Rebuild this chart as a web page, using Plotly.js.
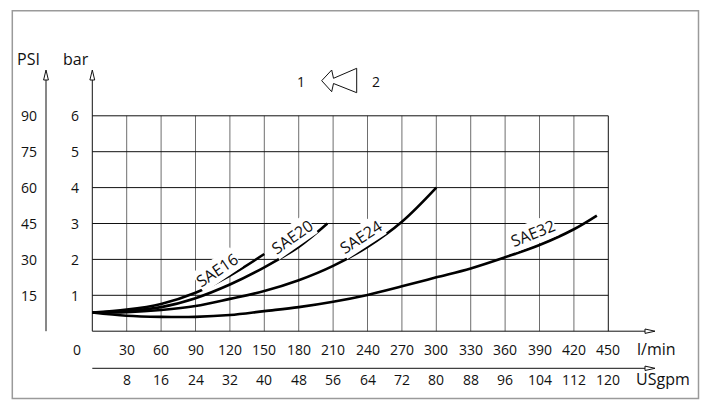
<!DOCTYPE html>
<html>
<head>
<meta charset="utf-8">
<script src="https://cdn.plot.ly/plotly-3.0.1.min.js"></script>
<style>html,body{margin:0;padding:0;background:#fff;}#chart{width:710px;height:411px;}</style>
</head>
<body>
<div id="chart"></div>
<script>
// ---- data ----
const flowTicks = [30, 60, 90, 120, 150, 180, 210, 240, 270, 300, 330, 360, 390, 420, 450]; // l/min
const usgpmLabels = [8, 16, 24, 32, 40, 48, 56, 64, 72, 80, 88, 96, 104, 112, 120];
const barTicks = [1, 2, 3, 4, 5, 6];
const psiLabels = [15, 30, 45, 60, 75, 90];

const sae16Flow = [0, 30, 60, 90, 120, 150];
const sae16Bar  = [0.52, 0.60, 0.76, 1.07, 1.55, 2.15];
const sae20Flow = [0, 30, 60, 90, 120, 150, 180, 205];
const sae20Bar  = [0.52, 0.56, 0.67, 0.92, 1.30, 1.78, 2.35, 3.0];
const sae24Flow = [0, 30, 60, 90, 120, 150, 180, 210, 240, 270, 300];
const sae24Bar  = [0.52, 0.53, 0.59, 0.70, 0.90, 1.12, 1.42, 1.82, 2.35, 3.05, 4.0];
const sae32Flow = [0, 30, 60, 90, 120, 150, 180, 210, 240, 270, 300, 330, 360, 390, 420, 440];
const sae32Bar  = [0.52, 0.43, 0.40, 0.40, 0.45, 0.56, 0.67, 0.82, 1.01, 1.25, 1.50, 1.75, 2.06, 2.40, 2.84, 3.22];
const curveNames = ['SAE16', 'SAE20', 'SAE24', 'SAE32'];

// ---- page geometry (pixel -> data helpers for decorations) ----
const W = 710, H = 411;
const X0 = 92.3, SX = 1.1467;   // px of 0 l/min, px per l/min
const Y0 = 331.2, SY = 35.9;    // px of 0 bar, px per bar
const qx = px => (px - X0) / SX;
const by = py => (Y0 - py) / SY;

const FONT = '"Open Sans", "Noto Sans", sans-serif';
const INK = '#111';

const traces = [];
// grid verticals
const gvx = [], gvy = [];
flowTicks.slice(0, -1).forEach(q => { gvx.push(q, q, null); gvy.push(0, 6, null); });
traces.push({x: gvx, y: gvy, mode: 'lines', line: {color: '#6e6e6e', width: 1}, hoverinfo: 'skip'});
// grid horizontals + right edge
const ghx = [], ghy = [];
barTicks.forEach(b => { ghx.push(0, 450, null); ghy.push(b, b, null); });
ghx.push(450, 450, null); ghy.push(0, 6, null);
traces.push({x: ghx, y: ghy, mode: 'lines', line: {color: '#111', width: 1}, hoverinfo: 'skip'});

// axes lines
const xTip = qx(655), xBase = qx(645);
const yTip = by(70), yBase = by(80);
const usY = by(368.3);
const psiX = qx(46);
traces.push({x: [0, xBase, null, 0, xBase, null, 0, 0, null, psiX, psiX],
             y: [0, 0, null, usY, usY, null, 0, yBase, null, 0, yBase],
             mode: 'lines', line: {color: '#111', width: 1}, hoverinfo: 'skip'});

// curves
[[sae16Flow, sae16Bar], [sae20Flow, sae20Bar], [sae24Flow, sae24Bar], [sae32Flow, sae32Bar]].forEach((c, i) => {
  traces.push({x: c[0], y: c[1], name: curveNames[i], mode: 'lines',
               line: {color: '#000', width: 2.6, shape: 'spline', smoothing: 1}, hoverinfo: 'skip'});
});

// arrowheads (hollow triangles)
const hw = 2.4 / SX, hh = 2.2 / SY;
function tri(pts) {
  return {type: 'path', xref: 'x', yref: 'y', fillcolor: '#fff', line: {color: '#111', width: 1},
          path: 'M' + pts.map(p => p[0] + ',' + p[1]).join(' L') + ' Z'};
}
const shapes = [
  tri([[xBase, hh], [xTip, 0], [xBase, -hh]]),
  tri([[xBase, usY + hh], [xTip, usY], [xBase, usY - hh]]),
  tri([[-hw, yBase], [0, yTip], [hw, yBase]]),
  tri([[psiX - hw, yBase], [psiX, yTip], [psiX + hw, yBase]]),
  // flow direction arrow 2 -> 1
  {type: 'path', xref: 'x', yref: 'y', fillcolor: 'rgba(0,0,0,0)', line: {color: '#111', width: 1},
   path: 'M' + [[321.7, 80.7], [331.7, 70], [333.5, 78.3], [356.7, 68.3], [356.7, 92.7], [333.5, 83.5], [331.7, 91.7]]
     .map(p => qx(p[0]) + ',' + by(p[1])).join(' L') + ' Z'},
  // outer frame
  {type: 'rect', xref: 'paper', yref: 'paper', x0: 12.3 / W, x1: 698.5 / W, y0: 1 - 398.5 / H, y1: 1 - 10.7 / H,
   line: {color: '#9a9a9a', width: 1.5}}
];

const annotations = [];
function txt(x, y, text, size, extra) {
  annotations.push(Object.assign({x: x, y: y, xref: 'x', yref: 'y', text: text, showarrow: false,
    font: {family: FONT, size: size, color: INK}, xanchor: 'center', yanchor: 'middle'}, extra || {}));
}
flowTicks.forEach(q => txt(q, by(349), String(q), 14));
txt(qx(77), by(349), '0', 14);
usgpmLabels.forEach((u, i) => txt(flowTicks[i], by(379), String(u), 14));
barTicks.forEach((b, i) => { txt(qx(75), b, String(b), 14); txt(qx(28.7), b, String(psiLabels[i]), 14); });
txt(qx(28.7), by(58.5), 'PSI', 16);
txt(qx(76), by(58.5), 'bar', 16);
txt(qx(656), by(349), 'l/min', 16);
txt(qx(663), by(379), 'USgpm', 16);
txt(qx(301), by(81), '1', 14);
txt(qx(376), by(81), '2', 14);
// curve labels
const lbl = [[217, 270, -34], [291.7, 236.7, -35], [360.7, 237.3, -33], [533.3, 233.3, -22]];
curveNames.forEach((n, i) => txt(qx(lbl[i][0]), by(lbl[i][1]), n, 16,
  {textangle: lbl[i][2], bgcolor: '#fff', borderpad: 0}));

const layout = {
  width: W, height: H, margin: {l: 0, r: 0, t: 0, b: 0},
  paper_bgcolor: '#fff', plot_bgcolor: '#fff', showlegend: false,
  xaxis: {range: [qx(0), qx(W)], visible: false, fixedrange: true},
  yaxis: {range: [by(H), by(0)], visible: false, fixedrange: true},
  shapes: shapes, annotations: annotations
};
Plotly.newPlot('chart', traces, layout, {staticPlot: true, displayModeBar: false});
</script>
</body>
</html>
